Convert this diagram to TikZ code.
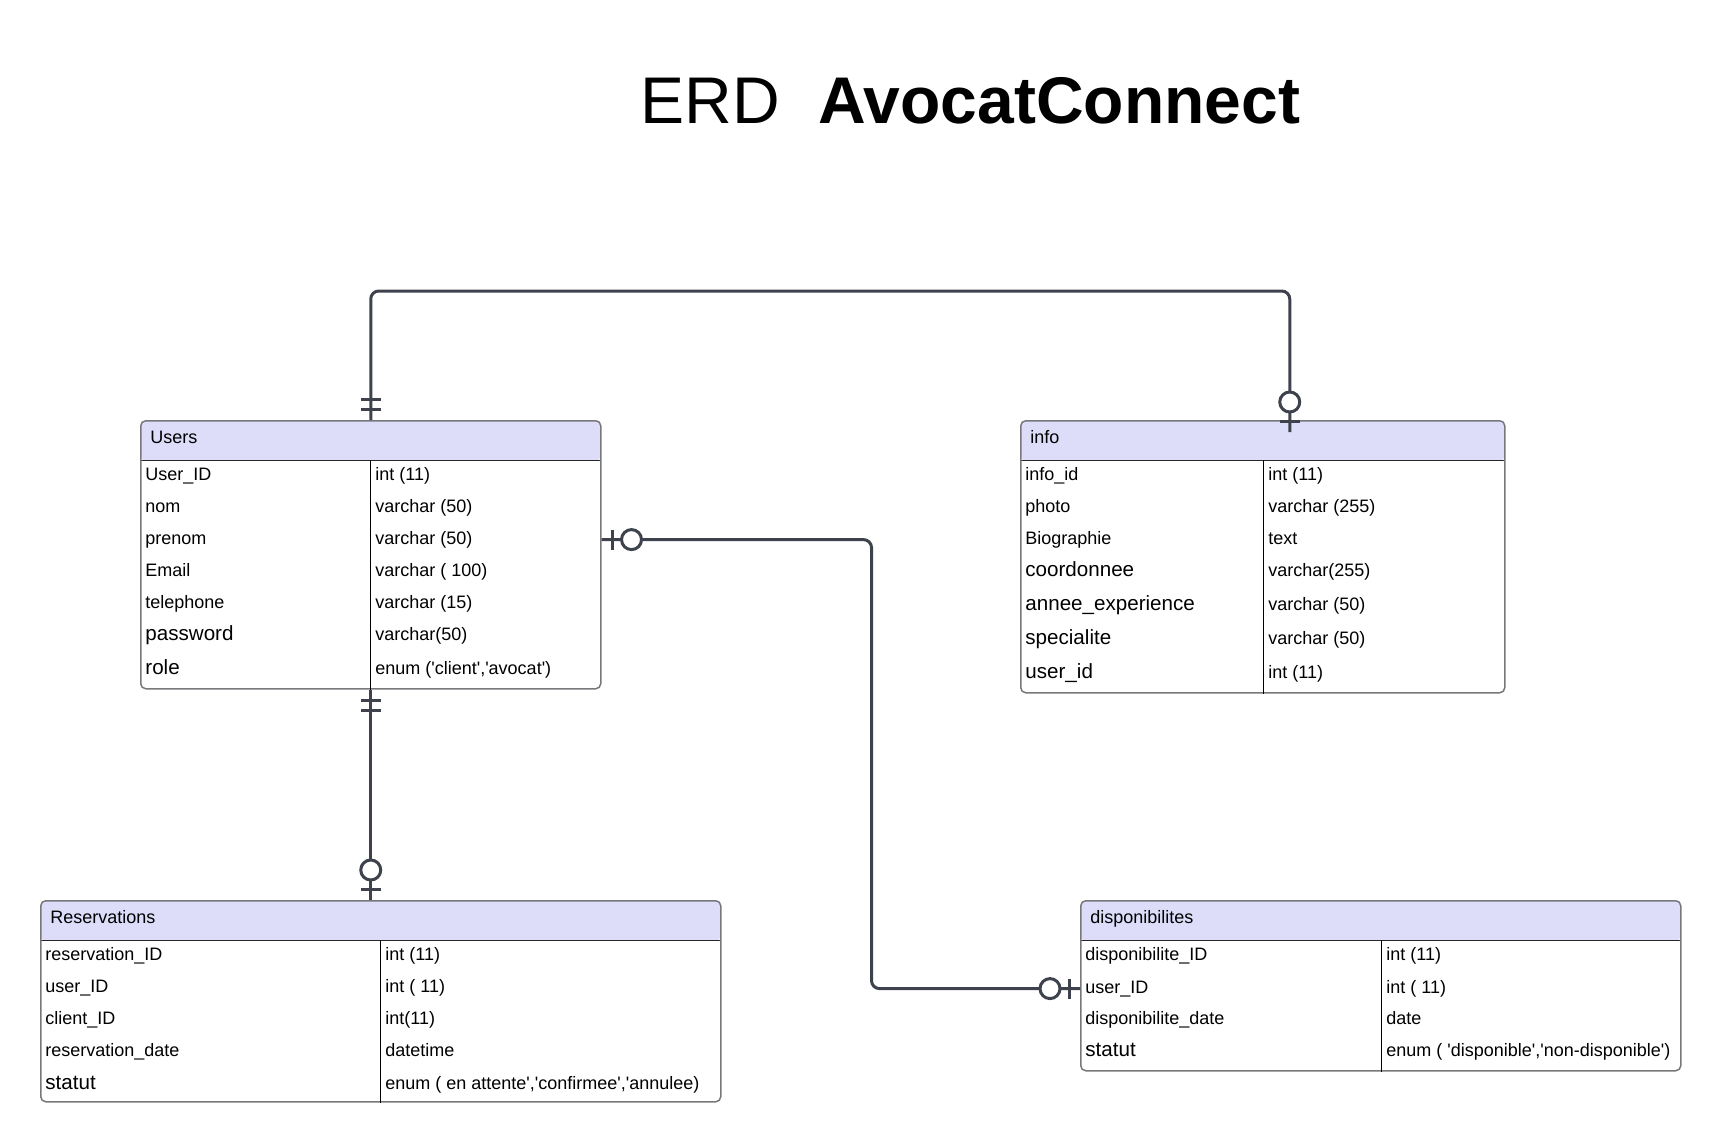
\documentclass[tikz,border=0pt]{standalone}
\usepackage{fontspec}
\setmainfont{Liberation Sans}
\usetikzlibrary{positioning,calc}

\definecolor{conncol}{RGB}{61,66,77}
\definecolor{tblgrey}{RGB}{120,120,124}
\definecolor{hdrblue}{RGB}{221,221,250}
\newcommand{\qt}{\textquotesingle}

\begin{document}
\begin{tikzpicture}[
  x=0.5pt, y=-0.5pt,
  every node/.style={font=\fontsize{9pt}{11pt}\selectfont},
  tbl/.style={draw=tblgrey, line width=0.75pt, rounded corners=2.5pt,
              anchor=north west, inner sep=0pt,
              path picture={
                \fill[hdrblue] (path picture bounding box.north west)
                  rectangle ([yshift=-20pt]path picture bounding box.north east);
                \draw[black!85, line width=0.6pt]
                  ([yshift=-20pt]path picture bounding box.north west)
                  -- ([yshift=-20pt]path picture bounding box.north east);}},
  colline/.style={draw=black, line width=0.5pt},
  fld/.style={anchor=west, inner sep=0pt, text height=0.72em, text depth=0.2em,
              yshift=-0.8pt},
  fldbig/.style={fld, font=\fontsize{10.3pt}{12pt}\selectfont},
  conn/.style={draw=conncol, line width=1.5pt},
  mandone/.pic={\draw[conn] (11,-10) -- (11,10) (21,-10) -- (21,10);},
  zeroone/.pic={\draw[conn] (11,-10) -- (11,10);
                \draw[conn, fill=white] (30,0) circle[radius=5pt];}
]
  \useasboundingbox (0,0) rectangle (1720,1142);

  % title
  \node[anchor=base west, inner sep=0pt, font=\fontsize{33pt}{40pt}\selectfont]
    (erd) at (640,123) {ERD};
  \node[base right=19pt of erd, inner sep=0pt,
        font=\fontsize{33pt}{40pt}\selectfont\bfseries] (appname) {AvocatConnect};

  % Users
  \node[tbl, minimum width=230pt, minimum height=134pt] (users) at (140,420) {};
  \draw[colline] ([xshift=115pt,yshift=-20pt]users.north west) -- ([xshift=115pt]users.south west);
  \node[fld] (u-head) at (150,437) {Users};
  \node[fld] (u-id)   at (145,474) {User\_ID};
  \node[fld] (u-nom)  at (145,506) {nom};
  \node[fld] (u-pren) at (145,538) {prenom};
  \node[fld] (u-mail) at (145,570) {Email};
  \node[fld] (u-tel)  at (145,602) {telephone};
  \node[fldbig] (u-pwd)  at (145,634) {password};
  \node[fldbig] (u-role) at (145,668) {role};
  \node[fld] (u-id-t)   at (375,474) {int (11)};
  \node[fld] (u-nom-t)  at (375,506) {varchar (50)};
  \node[fld] (u-pren-t) at (375,538) {varchar (50)};
  \node[fld] (u-mail-t) at (375,570) {varchar ( 100)};
  \node[fld] (u-tel-t)  at (375,602) {varchar (15)};
  \node[fld] (u-pwd-t)  at (375,634) {varchar(50)};
  \node[fld] (u-role-t) at (375,668) {enum (\qt client\qt,\qt avocat\qt)};

  % info
  \node[tbl, minimum width=242pt, minimum height=136pt] (info) at (1020,420) {};
  \draw[colline] ([xshift=121.5pt,yshift=-20pt]info.north west) -- ([xshift=121.5pt]info.south west);
  \node[fld] (i-head) at (1030,437) {info};
  \node[fld] (i-id)    at (1025,474) {info\_id};
  \node[fld] (i-photo) at (1025,506) {photo};
  \node[fld] (i-bio)   at (1025,538) {Biographie};
  \node[fldbig] (i-coord) at (1025,570) {coordonnee};
  \node[fldbig] (i-exp)   at (1025,604) {annee\_experience};
  \node[fldbig] (i-spec)  at (1025,638) {specialite};
  \node[fldbig] (i-user)  at (1025,672) {user\_id};
  \node[fld] (i-id-t)    at (1268,474) {int (11)};
  \node[fld] (i-photo-t) at (1268,506) {varchar (255)};
  \node[fld] (i-bio-t)   at (1268,538) {text};
  \node[fld] (i-coord-t) at (1268,570) {varchar(255)};
  \node[fld] (i-exp-t)   at (1268,604) {varchar (50)};
  \node[fld] (i-spec-t)  at (1268,638) {varchar (50)};
  \node[fld] (i-user-t)  at (1268,672) {int (11)};

  % Reservations
  \node[tbl, minimum width=340pt, minimum height=100.5pt] (resv) at (40,900) {};
  \draw[colline] ([xshift=170pt,yshift=-20pt]resv.north west) -- ([xshift=170pt]resv.south west);
  \node[fld] (r-head) at (50,917) {Reservations};
  \node[fld] (r-id)     at (45,954)  {reservation\_ID};
  \node[fld] (r-user)   at (45,986)  {user\_ID};
  \node[fld] (r-client) at (45,1018) {client\_ID};
  \node[fld] (r-date)   at (45,1050) {reservation\_date};
  \node[fldbig] (r-stat) at (45,1083) {statut};
  \node[fld] (r-id-t)     at (385,954)  {int (11)};
  \node[fld] (r-user-t)   at (385,986)  {int ( 11)};
  \node[fld] (r-client-t) at (385,1018) {int(11)};
  \node[fld] (r-date-t)   at (385,1050) {datetime};
  \node[fld] (r-stat-t)   at (385,1083) {enum ( en attente\qt,\qt confirmee\qt,\qt annulee)};

  % disponibilites
  \node[tbl, minimum width=300pt, minimum height=85pt] (dispo) at (1080,900) {};
  \draw[colline] ([xshift=150.5pt,yshift=-20pt]dispo.north west) -- ([xshift=150.5pt]dispo.south west);
  \node[fld] (d-head) at (1090,917) {disponibilites};
  \node[fld] (d-id)   at (1085,954)  {disponibilite\_ID};
  \node[fld] (d-user) at (1085,987)  {user\_ID};
  \node[fld] (d-date) at (1085,1018) {disponibilite\_date};
  \node[fldbig] (d-stat) at (1085,1050) {statut};
  \node[fld] (d-id-t)   at (1386,954)  {int (11)};
  \node[fld] (d-user-t) at (1386,987)  {int ( 11)};
  \node[fld] (d-date-t) at (1386,1018) {date};
  \node[fld] (d-stat-t) at (1386,1050) {enum ( \qt disponible\qt,\qt non-disponible\qt)};

  % relations
  \coordinate (infotop) at ([xshift=13.5pt,yshift=-6pt]info.north);
  \draw[conn, rounded corners=4pt] (users.north) -- ++(0,-129) -| (infotop);
  \draw[conn] (users.south) -- (users.south |- resv.north);
  \draw[conn, rounded corners=4pt] (users.east |- u-pren) -- ++(270,0) |- (dispo.west |- d-user);

  \pic[rotate=90]  at (users.north) {mandone};
  \pic[rotate=90]  at (infotop) {zeroone};
  \pic[rotate=-90] at (users.south) {mandone};
  \pic[rotate=90]  at (users.south |- resv.north) {zeroone};
  \pic             at (users.east |- u-pren) {zeroone};
  \pic[rotate=180] at (dispo.west |- d-user) {zeroone};
\end{tikzpicture}
\end{document}
